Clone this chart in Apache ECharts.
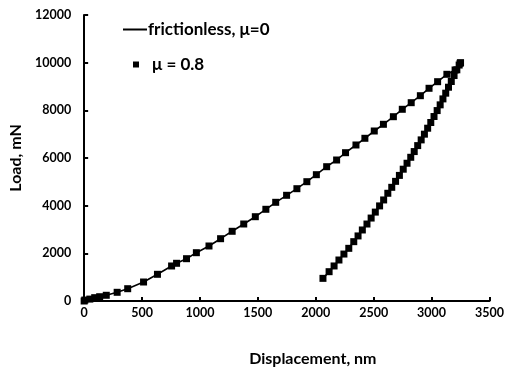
<!DOCTYPE html>
<html>
<head>
<meta charset="utf-8">
<script src="https://cdn.jsdelivr.net/npm/echarts@6/dist/echarts.min.js"></script>
<style>
html,body{margin:0;padding:0;background:#fff;}
#chart{width:507px;height:372px;}
</style>
</head>
<body>
<div id="chart"></div>
<script>
// Loading branch: displacement (nm), load (mN)
const loadH = [0, 6, 49, 91, 134, 191, 285, 376, 513, 633, 755, 798, 884, 969, 1078, 1178, 1278, 1378, 1478, 1569, 1654, 1748, 1837, 1923, 2005, 2094, 2180, 2257, 2347, 2424, 2505, 2584, 2670, 2747, 2824, 2903, 2978, 3052, 3132, 3203, 3246];
const loadP = [0, 40, 80, 140, 180, 240, 365, 516, 797, 1120, 1469, 1582, 1775, 2027, 2308, 2614, 2925, 3231, 3537, 3848, 4141, 4435, 4712, 5006, 5300, 5635, 5916, 6223, 6546, 6827, 7133, 7414, 7733, 8044, 8321, 8614, 8925, 9202, 9512, 9693, 9974];
// Unloading branch
const unloadH = [3250, 3238, 3218, 3194, 3170, 3146, 3122, 3098, 3074, 3048, 3021, 2993, 2966, 2938, 2910, 2880, 2850, 2820, 2788, 2755, 2722, 2689, 2656, 2622, 2586, 2551, 2514, 2478, 2442, 2402, 2365, 2328, 2285, 2243, 2200, 2158, 2115, 2062];
const unloadP = [10000, 9900, 9700, 9460, 9210, 8970, 8720, 8480, 8230, 7990, 7740, 7490, 7250, 7000, 6760, 6520, 6270, 6030, 5780, 5530, 5270, 5020, 4770, 4520, 4240, 3990, 3730, 3480, 3230, 2980, 2730, 2490, 2210, 1970, 1720, 1470, 1230, 950];

const xTicks = { min: 0, max: 3500, interval: 500 };
const yTicks = { min: 0, max: 12000, interval: 2000 };
const seriesNames = ['frictionless, \u03bc=0', '\u03bc = 0.8'];

const curve = loadH.map((h, i) => [h, loadP[i]]).concat(unloadH.map((h, i) => [h, unloadP[i]]));

const FONT = 'Lato';
const legendText = { fontFamily: FONT, fontWeight: 'bold', fontSize: 17, color: '#000' };
const chart = echarts.init(document.getElementById('chart'), null, { renderer: 'canvas' });
chart.setOption({
  animation: false,
  backgroundColor: '#fff',
  grid: { left: 84, right: 14, top: 15, bottom: 71, containLabel: false },
  legend: [
    {
      left: 118, top: 16,
      itemWidth: 24, itemHeight: 2, itemGap: 0,
      textStyle: Object.assign({ padding: [0, 0, 0, -4] }, legendText),
      data: [{ name: seriesNames[0], icon: 'rect', itemStyle: { color: '#000', opacity: 1 } }]
    },
    {
      left: 128, top: 51,
      itemWidth: 6, itemHeight: 6, itemGap: 0,
      textStyle: Object.assign({ padding: [0, 0, 0, 8] }, legendText),
      data: [{ name: seriesNames[1], icon: 'rect', itemStyle: { color: '#000', opacity: 1 } }]
    }
  ],
  xAxis: {
    type: 'value',
    min: xTicks.min, max: xTicks.max, interval: xTicks.interval,
    name: 'Displacement, nm',
    nameLocation: 'middle',
    nameGap: 50,
    nameTextStyle: { fontFamily: FONT, fontWeight: 'bold', fontSize: 16, color: '#000', padding: [0, 0, 0, 52] },
    axisLine: { show: true, onZero: false, lineStyle: { color: '#000', width: 2 } },
    axisTick: { show: true, inside: true, length: 4, lineStyle: { color: '#000', width: 2 } },
    axisLabel: { fontFamily: FONT, fontWeight: 'bold', fontSize: 12.5, color: '#000', margin: 5, formatter: v => String(v) },
    splitLine: { show: false }
  },
  yAxis: {
    type: 'value',
    min: yTicks.min, max: yTicks.max, interval: yTicks.interval,
    name: 'Load, mN',
    nameLocation: 'middle',
    nameGap: 48,
    nameTextStyle: { fontFamily: FONT, fontWeight: 'bold', fontSize: 16, color: '#000' },
    axisLine: { show: true, onZero: false, lineStyle: { color: '#000', width: 2 } },
    axisTick: { show: true, inside: true, length: 4, lineStyle: { color: '#000', width: 2 } },
    axisLabel: { fontFamily: FONT, fontWeight: 'bold', fontSize: 12.5, color: '#000', margin: 13, formatter: v => String(v) },
    splitLine: { show: false }
  },
  series: [
    {
      name: seriesNames[0],
      type: 'line',
      data: curve,
      showSymbol: false,
      symbol: 'none',
      lineStyle: { color: '#000', width: 1.6 },
      itemStyle: { color: '#000' },
      z: 2
    },
    {
      name: seriesNames[1],
      type: 'scatter',
      data: curve,
      symbol: 'rect',
      symbolSize: 7,
      itemStyle: { color: '#000', opacity: 1 },
      z: 3
    }
  ]
});
</script>
</body>
</html>
